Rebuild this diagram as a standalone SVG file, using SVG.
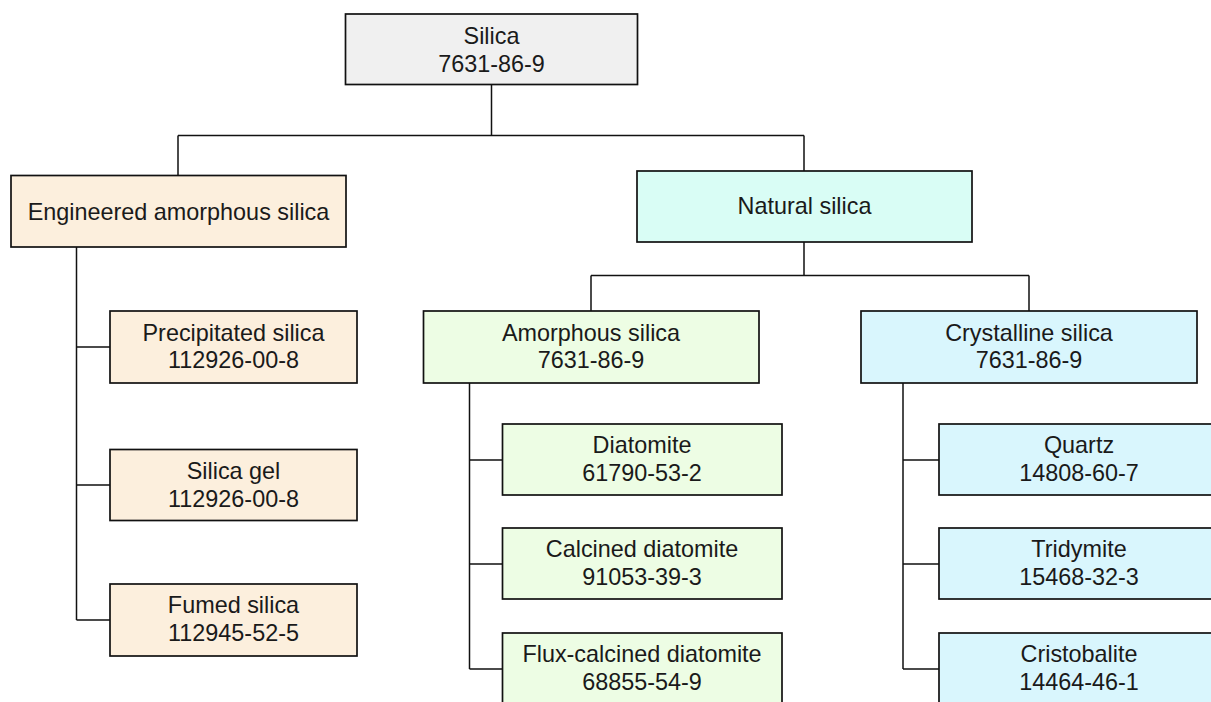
<svg xmlns="http://www.w3.org/2000/svg" width="1211" height="702" viewBox="0 0 1211 702">
<style>
.box{stroke:#111111;stroke-width:1.7}
.t{font-family:"Liberation Sans",Arial,sans-serif;font-size:23.4px;fill:#1a1a1a;text-anchor:middle}
.c{fill:none;stroke:#111111;stroke-width:1.5}
.grey{fill:#f0f0f0}.peach{fill:#fcefdd}.mint{fill:#d9fdf5}.green{fill:#edfde4}.cyan{fill:#d9f6fd}
</style>
<rect width="1211" height="702" fill="#ffffff"/>
<g id="connectors">
<path class="c" d="M491.5 84.5V135.5M178 135.5H804M178 135.5V175.5M804 135.5V171"/>
<path class="c" d="M804 242V275.5M591 275.5H1029M591 275.5V311M1029 275.5V311"/>
<path class="c" d="M76.5 247V620M76.5 347H111M76.5 485H111M76.5 620H110"/>
<path class="c" d="M469.5 383V669M469.5 460H504M469.5 564H504M469.5 669H503"/>
<path class="c" d="M903 383V669M903 460H939M903 564H940M903 669H939"/>
</g>
<g id="silica"><rect class="box grey" x="345.5" y="14" width="292" height="70.5"/><text class="t" x="491.5" y="43.5">Silica</text><text class="t" x="491.5" y="72">7631-86-9</text></g>
<g id="engineered"><rect class="box peach" x="11" y="175.5" width="335" height="71.5"/><text class="t" x="178.5" y="220">Engineered amorphous silica</text></g>
<g id="natural"><rect class="box mint" x="637" y="171" width="335" height="71"/><text class="t" x="804.5" y="214">Natural silica</text></g>
<g id="amorphous"><rect class="box green" x="423.5" y="311" width="335.5" height="72"/><text class="t" x="591" y="340.5">Amorphous silica</text><text class="t" x="591" y="368">7631-86-9</text></g>
<g id="crystalline"><rect class="box cyan" x="861" y="311" width="336" height="72"/><text class="t" x="1029" y="340.5">Crystalline silica</text><text class="t" x="1029" y="368">7631-86-9</text></g>
<g id="precipitated"><rect class="box peach" x="110" y="311" width="247" height="72"/><text class="t" x="233.5" y="340.5">Precipitated silica</text><text class="t" x="233.5" y="368">112926-00-8</text></g>
<g id="silicagel"><rect class="box peach" x="110" y="449.5" width="247" height="71"/><text class="t" x="233.5" y="478.5">Silica gel</text><text class="t" x="233.5" y="506.5">112926-00-8</text></g>
<g id="fumed"><rect class="box peach" x="110" y="584" width="247" height="72"/><text class="t" x="233.5" y="613">Fumed silica</text><text class="t" x="233.5" y="641">112945-52-5</text></g>
<g id="diatomite"><rect class="box green" x="502.5" y="424" width="279.5" height="71"/><text class="t" x="642" y="453">Diatomite</text><text class="t" x="642" y="481">61790-53-2</text></g>
<g id="calcined"><rect class="box green" x="502.5" y="528" width="279.5" height="71"/><text class="t" x="642" y="557">Calcined diatomite</text><text class="t" x="642" y="585">91053-39-3</text></g>
<g id="flux"><rect class="box green" x="502.5" y="633" width="279.5" height="80"/><text class="t" x="642" y="662">Flux-calcined diatomite</text><text class="t" x="642" y="690">68855-54-9</text></g>
<g id="quartz"><rect class="box cyan" x="939" y="424" width="280" height="71"/><text class="t" x="1079" y="453">Quartz</text><text class="t" x="1079" y="481">14808-60-7</text></g>
<g id="tridymite"><rect class="box cyan" x="939" y="528" width="280" height="71"/><text class="t" x="1079" y="557">Tridymite</text><text class="t" x="1079" y="585">15468-32-3</text></g>
<g id="cristobalite"><rect class="box cyan" x="939" y="633" width="280" height="80"/><text class="t" x="1079" y="662">Cristobalite</text><text class="t" x="1079" y="690">14464-46-1</text></g>
</svg>
